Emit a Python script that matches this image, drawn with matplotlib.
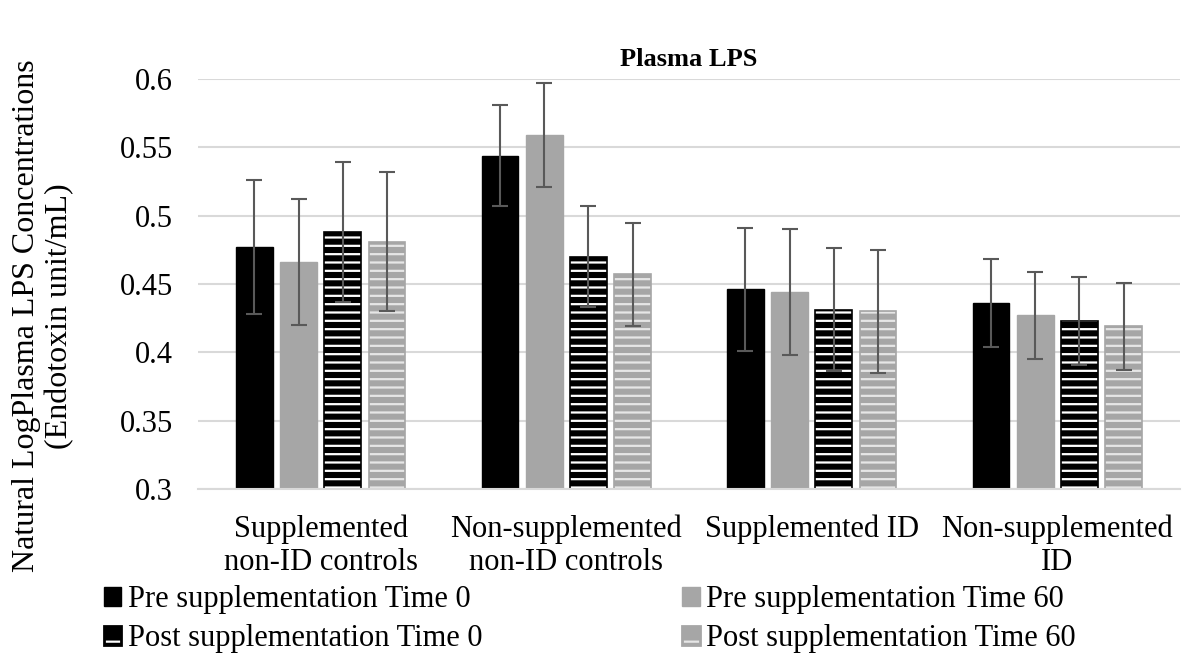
#!/usr/bin/env python3

import matplotlib
matplotlib.use('Agg')
from matplotlib import pyplot as plt
from matplotlib.patches import Patch
from matplotlib.legend_handler import HandlerTuple
import numpy as np

groups = ["Supplemented\nnon-ID controls", "Non-supplemented\nnon-ID controls",
          "Supplemented ID", "Non-supplemented\nID"]
series = ["Pre supplementation Time 0", "Pre supplementation Time 60",
          "Post supplementation Time 0", "Post supplementation Time 60"]

pre_t0 = [0.477, 0.544, 0.446, 0.436]
pre_t60 = [0.466, 0.559, 0.444, 0.427]
post_t0 = [0.488, 0.470, 0.431, 0.423]
post_t60 = [0.481, 0.457, 0.430, 0.419]

pre_t0_err = [0.049, 0.037, 0.045, 0.032]
pre_t60_err = [0.046, 0.038, 0.046, 0.032]
post_t0_err = [0.051, 0.037, 0.045, 0.032]
post_t60_err = [0.051, 0.038, 0.045, 0.032]

plt.rcParams['font.family'] = ['Liberation Serif', 'DejaVu Serif']
plt.rcParams['hatch.linewidth'] = 1.6

W, H = 1184, 657
fig = plt.figure(figsize=(W / 100, H / 100), dpi=100)
ax = fig.add_axes([198 / W, 1 - 489 / H, 982 / W, 410 / H])

x = np.arange(len(groups))
width = 0.15
offsets = [-0.27, -0.09, 0.09, 0.27]
values = [pre_t0, pre_t60, post_t0, post_t60]
errors = [pre_t0_err, pre_t60_err, post_t0_err, post_t60_err]
faces = ['#000000', '#a6a6a6', '#000000', '#a6a6a6']
hatch_cols = [None, None, '#ffffff', '#e6e6e6']
edges = ['#000000', '#a6a6a6', '#000000', '#a6a6a6']

handles = []
for vals, errs, off, fc, hc, ec in zip(values, errors, offsets, faces, hatch_cols, edges):
    pos = x + off
    heights = np.array(vals) - 0.3
    if hc is None:
        ax.bar(pos, heights, width, bottom=0.3, color=fc,
               edgecolor=ec, linewidth=1, zorder=2)
        handles.append(Patch(facecolor=fc, edgecolor=ec, linewidth=1))
    else:
        # hatch colour follows the edge colour, so draw stripes and outline separately
        ax.bar(pos, heights, width, bottom=0.3, color=fc,
               edgecolor=hc, hatch='--', linewidth=0, zorder=2)
        ax.bar(pos, heights, width, bottom=0.3, fill=False,
               edgecolor=ec, linewidth=1.2, zorder=2.1)
        handles.append((Patch(facecolor=fc, edgecolor=hc, hatch='-', linewidth=0),
                        Patch(fill=False, edgecolor=ec, linewidth=2)))
    ax.errorbar(pos, vals, yerr=errs, fmt='none', ecolor='#595959',
                elinewidth=1.5, capsize=6, capthick=1.5, zorder=3)

ax.set_xlim(-0.5, 3.5)
ax.set_ylim(0.3, 0.6)
ax.set_yticks(np.arange(0.3, 0.601, 0.05))
ax.set_yticklabels(["0.3", "0.35", "0.4", "0.45", "0.5", "0.55", "0.6"])
ax.set_xticks(x)
ax.set_xticklabels(groups, fontsize=22, linespacing=1.2)
ax.tick_params(axis='y', labelsize=22, length=0, pad=18)
ax.tick_params(axis='x', length=0, pad=18)
ax.grid(axis='y', color='#d9d9d9', linewidth=1.5, zorder=0)
ax.set_axisbelow(True)
for side in ['top', 'right', 'left']:
    ax.spines[side].set_visible(False)
ax.spines['bottom'].set_color('#d9d9d9')
ax.spines['bottom'].set_linewidth(1.5)

fig.text(43 / W, 1 - 316 / H,
         "Natural LogPlasma LPS Concentrations\n(Endotoxin unit/mL)",
         fontsize=23, rotation=90, ha='center', va='center',
         multialignment='center', linespacing=1.15)
fig.text(689 / W, 1 - 59 / H, "Plasma LPS", fontsize=19, fontweight='bold',
         ha='center', va='center')

# legend fills column-wise, so order handles to get two rows of pre/post
order = [0, 2, 1, 3]
fig.legend([handles[i] for i in order], [series[i] for i in order],
           handler_map={tuple: HandlerTuple(ndivide=1, pad=0)},
           loc='upper left', bbox_to_anchor=(104 / W, 1 - 585 / H),
           ncol=2, frameon=False, fontsize=22, handlelength=0.57,
           handleheight=0.57, handletextpad=0.2, columnspacing=6.55,
           labelspacing=0.33, borderaxespad=0, borderpad=0)

plt.savefig("out.png")
